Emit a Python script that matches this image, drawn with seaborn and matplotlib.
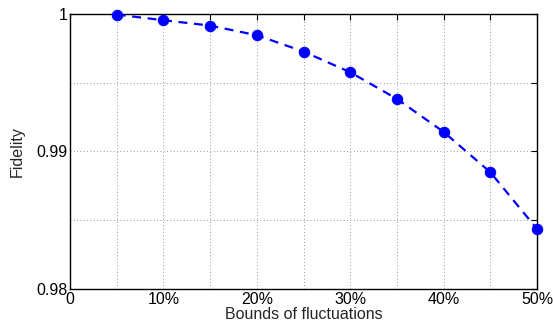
import numpy as np
import pandas as pd
import seaborn as sns
import matplotlib.pyplot as plt
from matplotlib.ticker import MultipleLocator, FuncFormatter

bounds = [5, 10, 15, 20, 25, 30, 35, 40, 45, 50]
fidelity = [0.99995, 0.99954, 0.99915, 0.99845, 0.99726, 0.99576, 0.99382, 0.99142, 0.98849, 0.98436]

sns.set_style("white")
plt.rcParams['font.family'] = ['Liberation Sans', 'DejaVu Sans']

df = pd.DataFrame({'bound': bounds, 'fidelity': fidelity})

fig = plt.figure(figsize=(5.53, 3.31), dpi=100)
ax = fig.add_axes([0.1266, 0.127, 0.8445, 0.831])

sns.lineplot(x='bound', y='fidelity', data=df, ax=ax, color='blue',
             linestyle=(0, (4, 3)), linewidth=1.6, marker='o', markersize=7.5,
             markeredgecolor='blue', markerfacecolor='blue', clip_on=False, zorder=5)

ax.set_xlim(0, 50)
ax.set_ylim(0.98, 1.0)
ax.xaxis.set_major_locator(MultipleLocator(5))
ax.yaxis.set_major_locator(MultipleLocator(0.005))

def xfmt(v, pos):
    v = int(round(v))
    if v % 10:
        return ''
    return '0' if v == 0 else '%d%%' % v

def yfmt(v, pos):
    r = round(v, 3)
    if abs(r * 100 - round(r * 100)) > 1e-6:
        return ''
    if abs(r - 1) < 1e-9:
        return '1'
    return '%.2f' % r

ax.xaxis.set_major_formatter(FuncFormatter(xfmt))
ax.yaxis.set_major_formatter(FuncFormatter(yfmt))

ax.grid(True, linestyle=(0, (1, 3)), color='#777777', linewidth=0.6)
ax.tick_params(direction='in', length=4, width=0.8, top=True, right=True,
               labelsize=11.5, colors='black', pad=2)
for s in ax.spines.values():
    s.set_color('black')
    s.set_linewidth(1.0)

ax.set_xlabel('Bounds of fluctuations', fontsize=11.5, labelpad=0)
ax.set_ylabel('Fidelity', fontsize=11.5, labelpad=8)

fig.savefig('out.png', dpi=100)
